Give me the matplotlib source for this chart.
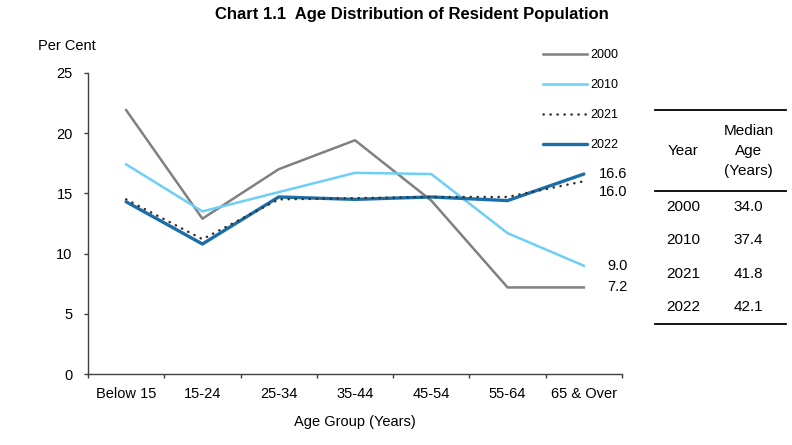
import matplotlib
matplotlib.use("Agg")
import matplotlib.pyplot as plt
from matplotlib.lines import Line2D

plt.rcParams['font.family'] = ['Liberation Sans', 'DejaVu Sans']

# data
age_groups = ['Below 15', '15-24', '25-34', '35-44', '45-54', '55-64', '65 & Over']
pct_2000 = [21.9, 12.9, 17.0, 19.4, 14.4, 7.2, 7.2]
pct_2010 = [17.4, 13.5, 15.1, 16.7, 16.6, 11.7, 9.0]
pct_2021 = [14.5, 11.2, 14.5, 14.6, 14.7, 14.7, 16.0]
pct_2022 = [14.3, 10.8, 14.7, 14.5, 14.7, 14.4, 16.6]

table_years = ['2000', '2010', '2021', '2022']
median_ages = ['34.0', '37.4', '41.8', '42.1']

W, H = 792, 445
fig = plt.figure(figsize=(W / 100, H / 100), dpi=100)
ax = fig.add_axes([88 / W, 1 - 374.3 / H, (622 - 88) / W, (374.3 - 72.7) / H])

x = list(range(len(age_groups)))
ax.plot(x, pct_2000, color='#808080', lw=1.8, label='2000')
ax.plot(x, pct_2010, color='#6DCFF6', lw=1.8, label='2010')
ax.plot(x, pct_2022, color='#1B6EA8', lw=2.4, label='2022', solid_capstyle='round')
ax.plot(x, pct_2021, color='#333333', lw=1.8, linestyle=(0, (0.1, 2.7)),
        dash_capstyle='round', label='2021')

# end-of-line value labels
end_labels = [(pct_2022[-1], 0), (pct_2021[-1], -8), (pct_2010[-1], 0), (pct_2000[-1], 0)]
for val, dy in end_labels:
    ax.annotate(f'{val:.1f}', xy=(x[-1], val), xytext=(31.5, dy), textcoords='offset points',
                ha='right', va='center', fontsize=10.5, color='black')

ax.set_xlim(-0.5, len(age_groups) - 0.5)
ax.set_ylim(0, 25)
ax.set_yticks([0, 5, 10, 15, 20, 25])
ax.set_xticks([i - 0.5 for i in range(len(age_groups) + 1)])
ax.set_xticklabels([])
ax.set_xticks(x, minor=True)
ax.set_xticklabels(age_groups, minor=True)
ax.tick_params(axis='x', which='major', direction='out', length=3, width=1, color='#404040')
ax.tick_params(axis='x', which='minor', length=0, pad=9, labelsize=10.5)
ax.tick_params(axis='y', direction='out', length=3, width=1, color='#404040', pad=8, labelsize=10.5)
for side in ['top', 'right']:
    ax.spines[side].set_visible(False)
for side in ['left', 'bottom']:
    ax.spines[side].set_color('#404040')
    ax.spines[side].set_linewidth(1)
ax.set_xlabel('Age Group (Years)', fontsize=10.5, labelpad=10)

# legend in drawing order 2000, 2010, 2021, 2022
handles, labels = ax.get_legend_handles_labels()
order = [labels.index(l) for l in ['2000', '2010', '2021', '2022']]
fig.legend([handles[i] for i in order], [labels[i] for i in order],
           loc='upper left', bbox_to_anchor=(543 / W, 1 - 49 / H), frameon=False,
           fontsize=9, handlelength=3.5, handletextpad=0.3, labelspacing=1.45,
           borderpad=0, borderaxespad=0)

fig.text(412 / W, 1 - 15 / H, 'Chart 1.1  Age Distribution of Resident Population',
         ha='center', va='center', fontsize=12, fontweight='bold')
fig.text(38 / W, 1 - 46 / H, 'Per Cent', ha='left', va='center', fontsize=10.5)

# median age table
for yy in [110, 190.7, 324]:
    fig.add_artist(Line2D([655 / W, 786 / W], [1 - yy / H, 1 - yy / H], color='black', lw=1.3))
fig.text(683.5 / W, 1 - 151 / H, 'Year', ha='center', va='center', fontsize=11)
for txt, yy in [('Median', 131), ('Age', 151), ('(Years)', 171)]:
    fig.text(748.5 / W, 1 - yy / H, txt, ha='center', va='center', fontsize=11)
for i, (yr, med) in enumerate(zip(table_years, median_ages)):
    yy = 207 + i * 33.4
    fig.text(683.5 / W, 1 - yy / H, yr, ha='center', va='center', fontsize=11)
    fig.text(748.5 / W, 1 - yy / H, med, ha='center', va='center', fontsize=11)

fig.savefig('out.png', dpi=100)
